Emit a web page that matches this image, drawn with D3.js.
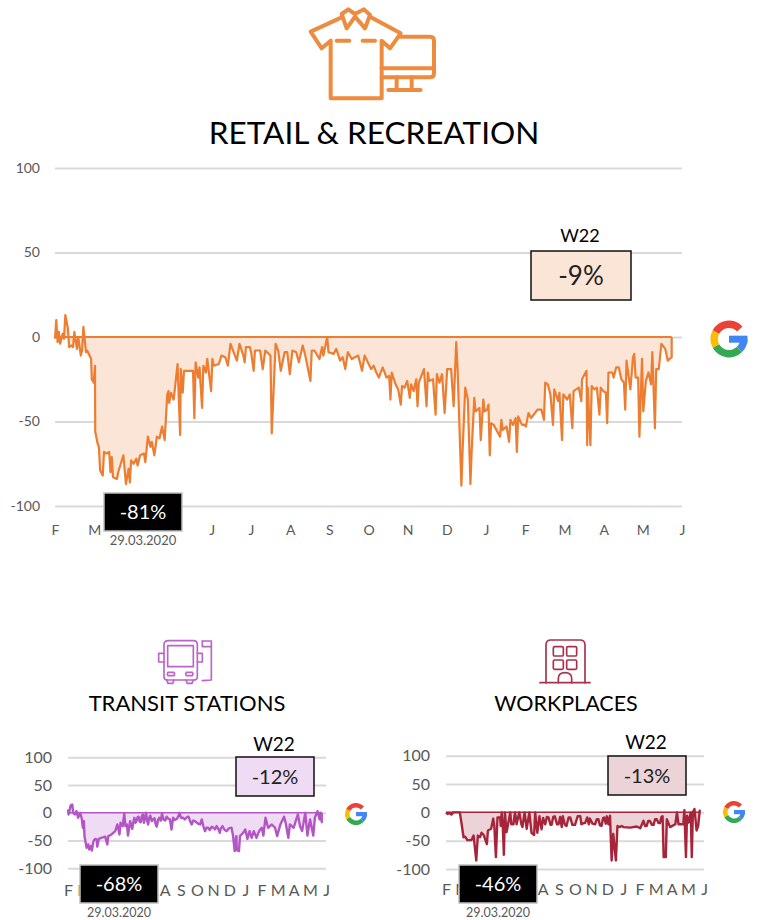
<!DOCTYPE html>
<html><head><meta charset="utf-8">
<script src="https://cdn.jsdelivr.net/npm/d3@7"></script>
<style>html,body{margin:0;padding:0;background:#fff}svg{display:block}text{font-family:Lato,"Open Sans",sans-serif}</style>
</head><body><svg id="c" width="757" height="920"></svg>
<script>
const months=["F","M","A","M","J","J","A","S","O","N","D","J","F","M","A","M","J"];
const yTicks=[100,50,0,-50,-100];
const retailDays=[0,1,2,3,4,6,7,8,10,11,13,14,15,17,18,20,21,22,24,25,28,28.5,30,31,31.2,33,34,35,37,38,40,42,43,44,45,48,49,51,53,55,57,58,59,61,63,64,66,69,70,72,74,75,77,79,81,83,85,87,88,88.5,90,92,95,97,97.5,99,100,102,105,107,108,109,111,112,114,115,117,118,121,122,123,127,129,132,134,136,138,141,143,146,147,148,151,152,154,155,159,161,163,167,168,171,173,175,178,180,182,184,187,189,192,194,198,199,201,205,207,208,211,212,216,218,221,223,225,227,230,235,238,240,245,247,249,251,254,257,259,260,261,264,266,268,269,271,273,275,276,278,280,281,282,286,288,289,290,293,295,296,298,300,302,304,307,309,311,312,315,316,318,320,322,323,325,326,329,330,332,333,335,336,337,338,340,345,346,347,350,352,353,355,357,358,359,362,364,365,367,369,371,374,377,379,380,382,384,386,387,390,391,393,394,397,399,401,402,406,408,408.5,412,412.5,413,415,416,418,420,422,423,425,427,428,429,432,433,435,437,439,441,442,443,446,448,449,450,452,453,455,456,458,460,462,463,465,466,468,470,473,475,478];
const retailValues=[-1,10,-3,3,-4,2,-1,13,5,-6,-5,-6,3,-7,0,-11,-8,6,-9,-8,-13,-25,-27,-17,-56,-63,-65,-79,-82,-68,-69,-68,-80,-71,-83,-84,-80,-75,-70,-87,-78,-86,-73,-75,-72,-76,-70,-69,-74,-59,-65,-62,-70,-59,-60,-53,-61,-34,-32,-39,-33,-37,-16,-58,-19,-33,-20,-20,-20,-20,-48,-15,-24,-18,-42,-17,-21,-13,-32,-13,-17,-16,-11,-12,-17,-4,-8,-14,-4,-11,-15,-6,-6,-9,-20,-8,-8,-19,-8,-11,-57,-4,-8,-20,-9,-9,-22,-8,-9,-15,-5,-11,-26,-8,-8,-13,-6,-11,0,-9,-10,-7,-14,-12,-19,-9,-13,-11,-20,-11,-19,-17,-21,-24,-18,-24,-23,-37,-21,-28,-31,-40,-29,-30,-26,-36,-28,-32,-25,-41,-27,-19,-41,-21,-26,-25,-46,-22,-27,-22,-45,-19,-19,-41,-3,-18,-88,-66,-30,-37,-87,-67,-36,-44,-42,-61,-37,-44,-43,-40,-70,-51,-52,-59,-49,-55,-53,-62,-49,-52,-48,-68,-47,-52,-52,-53,-45,-48,-46,-43,-43,-49,-27,-28,-34,-52,-31,-38,-33,-61,-34,-37,-34,-54,-32,-30,-38,-25,-20,-64,-30,-64,-29,-31,-30,-46,-30,-32,-33,-51,-21,-21,-24,-18,-18,-25,-27,-43,-14,-31,-12,-10,-24,-24,-59,-13,-44,-26,-21,-28,-9,-54,-19,-19,-4,-7,-14,-12];
const transitDays=[0,1,5,8,10,13,16,19,23,26,28,30,31,35,38,40,43,45,48,51,54,55,58,63,70,74,76,82,89,93,97,99,103,106,108,111,113,117,121,123,125,127,129,131,133,135,137,139,141,143,145,147,149,151,153,155,158,160,163,165,167,170,172,175,177,180,183,186,189,192,195,198,201,205,208,210,213,217,220,224,227,230,233,236,239,243,246,249,252,255,258,261,264,267,271,274,277,280,283,286,288,291,295,299,303,308,311,314,317,318,322,324,330,334,338,342,346,350,355,360,365,368,372,377,384,390,394,400,407,410,415,418,425,433,437,441,447,451,456,462,465,470,474,476,478];
const transitValues=[6,-3,13,15,0,-3,3,-9,0,-11,-27,-15,-42,-63,-57,-66,-60,-68,-51,-47,-48,-61,-47,-45,-43,-57,-42,-39,-33,-21,-39,-18,-24,-1,-24,-21,-41,-15,-29,-17,-9,-18,-15,-8,-7,-16,-17,-6,-3,-18,-10,0,-14,-21,-9,-5,-15,-12,-10,-20,-25,-12,-9,-14,-1,-12,-14,-7,-11,-12,-30,-9,-13,-11,-6,0,-9,-9,-12,-8,-7,-15,-21,-14,-15,-18,-20,-21,-12,-24,-33,-27,-27,-31,-25,-27,-30,-24,-29,-36,-28,-24,-31,-33,-28,-27,-42,-69,-42,-67,-69,-42,-36,-30,-47,-33,-45,-33,-45,-33,-27,-41,-9,-27,-21,-27,-42,-21,-7,-18,-45,-21,-27,-3,-24,-33,0,-41,-12,-41,-9,3,-12,0,-17];
const workDays=[0,3,6,10,14,26,30,33,36,40,48,52,57,60,64,67,71,77,79,85,89,91,94,97,102,103,105,107,109,111,114,117,121,123,127,130,133,138,142,144,148,152,157,161,166,168,172,176,180,183,187,190,193,197,199,202,205,209,212,215,218,220,224,227,231,234,238,241,243,248,253,255,259,262,266,269,271,276,281,284,287,290,293,296,298,301,303,306,309,310,312,315,317,320,323,327,331,334,347,359,366,372,375,378,381,384,388,391,394,397,400,403,406,408,410,414,416,422,432,435,438,447,449,452,454,457,461,463,465,468,472,475,478];
const workValues=[0,-3,-1,-4,0,0,-24,-44,-43,-49,-49,-41,-85,-41,-44,-36,-40,-56,-32,-29,-11,-24,-79,-9,-9,-24,0,-26,-75,0,-35,-21,0,-21,-21,0,-21,0,-21,-26,0,-29,0,-36,-40,0,-36,-7,-30,-10,-21,-8,-9,-22,-22,-8,-7,-21,-21,-8,-26,-7,-22,-24,-9,-9,-22,-22,-22,-7,-7,-21,-19,-19,-9,-21,-11,-20,-21,-12,-12,-23,-24,-10,-9,-20,-7,-21,-6,-35,-85,-38,-56,-85,-24,-26,-24,-26,-27,-25,-28,-15,-24,-24,-15,-15,-22,-22,-12,-12,-19,-19,-8,-7,-79,-79,-12,-26,-21,0,-21,-21,4,-79,-6,-18,0,-79,0,6,-32,-24,3];
const dayDomain=[0,486];
const svg=d3.select("#c");
const GREY="#595959",GRID="#D9D9D9";

function panel(o){
  const x=d3.scaleLinear().domain(dayDomain).range([o.x0,o.x1]);
  const y=d3.scaleLinear().domain([100,-100]).range([o.yTop,o.yBot]);
  const mx=d3.scaleLinear().domain([0,months.length-1]).range([o.x0,o.x1]);
  const g=svg.append("g");
  const ya=g.append("g").attr("transform",`translate(${o.x0},0)`)
    .call(d3.axisLeft(y).tickValues(yTicks).tickSize(-(o.x1-o.x0)).tickPadding(o.yPad).tickFormat(d=>String(d)));
  ya.select(".domain").remove();
  ya.selectAll("line").attr("stroke",GRID).attr("stroke-width",o.grid);
  ya.selectAll("text").attr("fill",GREY).style("font-size",o.tick+"px").style("font-family","Lato");
  const shown=d3.range(months.length).filter(i=>!o.hidden.includes(i));
  const xa=g.append("g").attr("transform",`translate(0,${o.monthY})`)
    .call(d3.axisBottom(mx).tickValues(shown).tickSize(0).tickPadding(0).tickFormat(i=>months[i]));
  xa.select(".domain").remove();
  xa.selectAll("text").attr("fill",GREY).attr("dy","0.32em").attr("y",0).style("font-size",o.tick+"px").style("font-family","Lato");
  const pts=o.days.map((d,i)=>[d,o.vals[i]]);
  g.append("path").datum(pts).attr("fill",o.fill)
    .attr("d",d3.area().x(d=>x(d[0])).y0(y(0)).y1(d=>y(d[1])));
  g.append("line").attr("x1",x(o.days[0])).attr("x2",x(o.days[o.days.length-1])).attr("y1",y(0)).attr("y2",y(0))
    .attr("stroke",o.color).attr("stroke-width",o.zeroW);
  g.append("path").datum([...pts,[o.days[o.days.length-1],0]]).attr("fill","none").attr("stroke",o.color).attr("stroke-width",o.lw).attr("stroke-linejoin","round")
    .attr("d",d3.line().x(d=>x(d[0])).y(d=>y(d[1])));
  g.append("text").attr("x",o.wx).attr("y",o.wLabelY).attr("text-anchor","middle").attr("fill","#000").style("font-size",o.wLabel+"px").text("W22");
  g.append("rect").attr("x",o.box[0]).attr("y",o.box[1]).attr("width",o.box[2]).attr("height",o.box[3]).attr("fill",o.fill).attr("stroke","#111").attr("stroke-width",1.5);
  g.append("text").attr("x",o.box[0]+o.box[2]/2).attr("y",o.box[1]+o.box[3]/2).attr("dy","0.35em").attr("text-anchor","middle").attr("fill","#222").style("font-size",o.boxFont+"px").text(o.wVal);
  g.append("rect").attr("x",o.min[0]).attr("y",o.min[1]).attr("width",o.min[2]).attr("height",o.min[3]).attr("fill","#000").attr("stroke","#BFBFBF").attr("stroke-width",1.5);
  g.append("text").attr("x",o.min[0]+o.min[2]/2).attr("y",o.min[1]+o.min[3]/2).attr("dy","0.35em").attr("text-anchor","middle").attr("fill","#fff").style("font-size",o.minFont+"px").text(o.minVal);
  g.append("text").attr("x",o.min[0]+o.min[2]/2).attr("y",o.dateY).attr("text-anchor","middle").attr("fill",GREY).style("font-size",o.dateFont+"px").text("29.03.2020");
  g.append("text").attr("x",o.tx).attr("y",o.ty).attr("text-anchor","middle").attr("fill","#000").style("font-size",o.tf+"px").text(o.title);
}

function googleG(cx,cy,R){
  const g=svg.append("g").attr("transform",`translate(${cx},${cy})`);
  const arc=d3.arc().innerRadius(R*0.6).outerRadius(R);
  const rad=a=>a*Math.PI/180;
  [["#4285F4",90,135],["#34A853",135,242],["#FBBC05",242,298],["#EA4335",298,407]].forEach(s=>{
    g.append("path").attr("fill",s[0]).attr("d",arc({startAngle:rad(s[1]),endAngle:rad(s[2])}));
  });
  g.append("rect").attr("x",0).attr("y",-R*0.18).attr("width",R).attr("height",R*0.38).attr("fill","#4285F4");
}

panel({x0:55,x1:682,yTop:168,yBot:506,yPad:15,grid:2,tick:14,monthY:531,hidden:[2,3],days:retailDays,vals:retailValues,color:"#ED7D31",fill:"#FBE5D6",lw:2.2,zeroW:2,
  wx:580,wLabelY:242,wLabel:18,box:[531,251,100,49],boxFont:26,wVal:"-9%",min:[104,493,78,38],minFont:20,minVal:"-81%",dateY:545,dateFont:13,tx:374,ty:144,tf:31.5,title:"RETAIL & RECREATION"});
panel({x0:68,x1:326,yTop:757.3,yBot:868.3,yPad:16,grid:2,tick:16,monthY:891,hidden:[2,3,4,5],days:transitDays,vals:transitValues,color:"#B455C6",fill:"#EFDCF4",lw:2.4,zeroW:1.5,
  wx:274,wLabelY:751,wLabel:19,box:[236,757,78,39],boxFont:20,wVal:"-12%",min:[80,865,78,38],minFont:20,minVal:"-68%",dateY:917,dateFont:12.5,tx:187,ty:711,tf:22,title:"TRANSIT STATIONS"});
panel({x0:446,x1:704,yTop:755.7,yBot:869,yPad:16,grid:2,tick:16,monthY:890,hidden:[2,3,4,5],days:workDays,vals:workValues,color:"#A6253B",fill:"#ECD3D7",lw:2.4,zeroW:1.5,
  wx:646,wLabelY:749,wLabel:19,box:[608,756,78,39],boxFont:20,wVal:"-13%",min:[459,865,78,38],minFont:20,minVal:"-46%",dateY:917,dateFont:12.5,tx:566,ty:711,tf:21.5,title:"WORKPLACES"});

googleG(729,339,18.5);googleG(356,814,11);googleG(734,812,11);

function icon(tx,ty,color,sw,paths){
  const g=svg.append("g").attr("transform",`translate(${tx},${ty}) scale(${1/3})`).attr("fill","none").attr("stroke",color).attr("stroke-width",sw).attr("stroke-linejoin","round").attr("stroke-linecap","round");
  paths.forEach(p=>g.append("path").attr("d",p));
}
icon(290,0,"#ED8B3F",12,[
 "M155,52L62,95L95,145L122,122L122,295L275,295L275,122L300,145L332,100L240,50",
 "M155,42L175,28L195,42L222,28L240,45L225,85L195,50L170,85Z",
 "M140,122L178,122","M218,122L255,122",
 "M330,110L420,110Q432,110 432,122L432,220Q432,232 420,232L275,232","M275,205L432,205",
 "M320,232L320,268","M365,232L365,268","M295,270L392,270"]);
icon(140,630,"#B965C9",5,[
 "M85,32L160,32Q172,32 172,44L172,140Q172,150 160,150L85,150Q72,150 72,140L72,44Q72,32 85,32Z",
 "M83,47L160,47L160,110L83,110Z",
 "M72,70L56,70L56,96L72,96","M172,70L187,70L187,96L172,96",
 "M84,127L102,127Q106,132 102,137L84,137Q80,132 84,127Z","M139,127L157,127Q161,132 157,137L139,137Q135,132 139,127Z",
 "M80,150L84,160L98,160L102,150","M138,150L142,160L156,160L160,150",
 "M187,33L214,33L214,150L187,152","M187,33L187,50L214,50"]);
icon(530,630,"#A6334A",5,[
 "M48,158L48,45Q48,30 63,30L150,30Q165,30 165,45L165,158","M30,158L180,158",
 "M74,50L96,50Q100,50 100,54L100,74Q100,78 96,78L74,78Q70,78 70,74L70,54Q70,50 74,50Z",
 "M114,50L136,50Q140,50 140,54L140,74Q140,78 136,78L114,78Q110,78 110,74L110,54Q110,50 114,50Z",
 "M74,90L96,90Q100,90 100,94L100,114Q100,118 96,118L74,118Q70,118 70,114L70,94Q70,90 74,90Z",
 "M114,90L136,90Q140,90 140,94L140,114Q140,118 136,118L114,118Q110,118 110,114L110,94Q110,90 114,90Z",
 "M85,158L85,145Q85,128 105,128Q125,128 125,145L125,158"]);
</script></body></html>
